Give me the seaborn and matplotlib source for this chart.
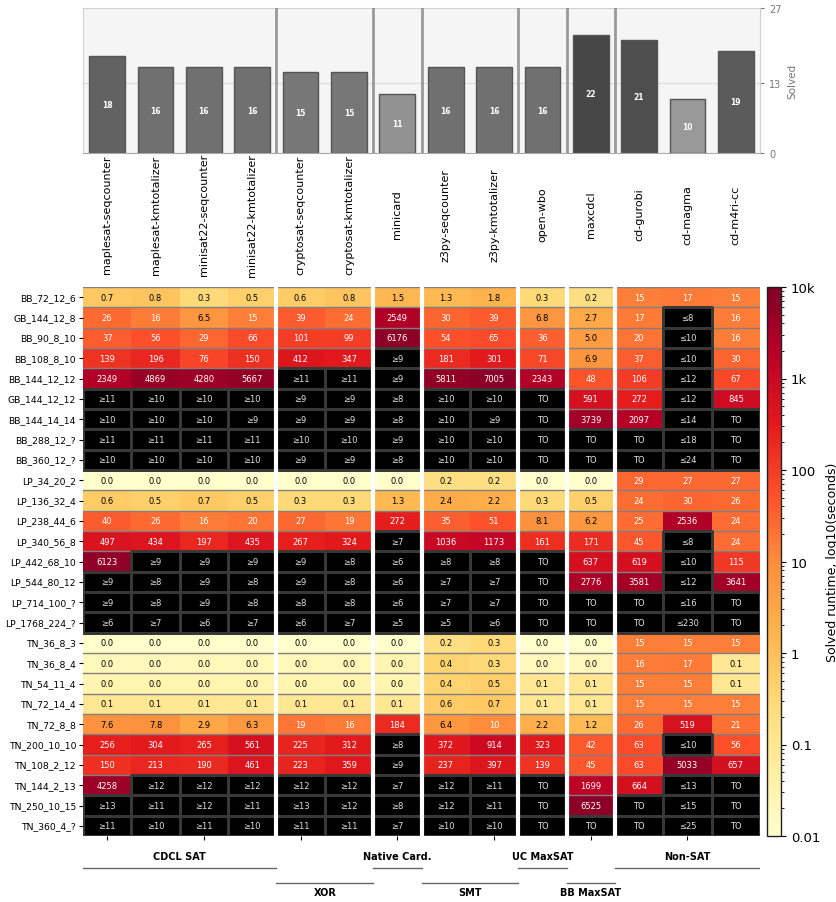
import numpy as np
import pandas as pd
import seaborn as sns
import matplotlib.pyplot as plt
from matplotlib.colors import LogNorm, ListedColormap, LinearSegmentedColormap, Normalize, to_rgba

solvers = ['maplesat-seqcounter', 'maplesat-kmtotalizer', 'minisat22-seqcounter',
           'minisat22-kmtotalizer', 'cryptosat-seqcounter', 'cryptosat-kmtotalizer',
           'minicard', 'z3py-seqcounter', 'z3py-kmtotalizer', 'open-wbo', 'maxcdcl',
           'cd-gurobi', 'cd-magma', 'cd-m4ri-cc']
solved = [18, 16, 16, 16, 15, 15, 11, 16, 16, 16, 22, 21, 10, 19]

groups = ['CDCL SAT', 'XOR', 'Native Card.', 'SMT', 'UC MaxSAT', 'BB MaxSAT', 'Non-SAT']
group_sizes = [4, 2, 1, 2, 1, 1, 3]

instances = ['BB_72_12_6', 'GB_144_12_8', 'BB_90_8_10', 'BB_108_8_10', 'BB_144_12_12',
             'GB_144_12_12', 'BB_144_14_14', 'BB_288_12_?', 'BB_360_12_?', 'LP_34_20_2',
             'LP_136_32_4', 'LP_238_44_6', 'LP_340_56_8', 'LP_442_68_10', 'LP_544_80_12',
             'LP_714_100_?', 'LP_1768_224_?', 'TN_36_8_3', 'TN_36_8_4', 'TN_54_11_4',
             'TN_72_14_4', 'TN_72_8_8', 'TN_200_10_10', 'TN_108_2_12', 'TN_144_2_13',
             'TN_250_10_15', 'TN_360_4_?']

# numbers = solved runtime in seconds, strings = unsolved (bound / timeout)
runtimes = [
    [0.7, 0.8, 0.3, 0.5, 0.6, 0.8, 1.5, 1.3, 1.8, 0.3, 0.2, 15, 17, 15],
    [26, 16, 6.5, 15, 39, 24, 2549, 30, 39, 6.8, 2.7, 17, '≤8', 16],
    [37, 56, 29, 66, 101, 99, 6176, 54, 65, 36, 5.0, 20, '≤10', 16],
    [139, 196, 76, 150, 412, 347, '≥9', 181, 301, 71, 6.9, 37, '≤10', 30],
    [2349, 4869, 4280, 5667, '≥11', '≥11', '≥9', 5811, 7005, 2343, 48, 106, '≤12', 67],
    ['≥11', '≥10', '≥10', '≥10', '≥9', '≥9', '≥8', '≥10', '≥10', 'TO', 591, 272, '≤12', 845],
    ['≥10', '≥10', '≥10', '≥9', '≥9', '≥9', '≥8', '≥10', '≥9', 'TO', 3739, 2097, '≤14', 'TO'],
    ['≥11', '≥11', '≥11', '≥11', '≥10', '≥10', '≥9', '≥10', '≥10', 'TO', 'TO', 'TO', '≤18', 'TO'],
    ['≥10', '≥10', '≥10', '≥10', '≥9', '≥9', '≥8', '≥10', '≥10', 'TO', 'TO', 'TO', '≤24', 'TO'],
    [0.01, 0.01, 0.01, 0.01, 0.01, 0.01, 0.01, 0.2, 0.2, 0.01, 0.01, 29, 27, 27],
    [0.6, 0.5, 0.7, 0.5, 0.3, 0.3, 1.3, 2.4, 2.2, 0.3, 0.5, 24, 30, 26],
    [40, 26, 16, 20, 27, 19, 272, 35, 51, 8.1, 6.2, 25, 2536, 24],
    [497, 434, 197, 435, 267, 324, '≥7', 1036, 1173, 161, 171, 45, '≤8', 24],
    [6123, '≥9', '≥9', '≥9', '≥9', '≥8', '≥6', '≥8', '≥8', 'TO', 637, 619, '≤10', 115],
    ['≥9', '≥8', '≥9', '≥8', '≥9', '≥8', '≥6', '≥7', '≥7', 'TO', 2776, 3581, '≤12', 3641],
    ['≥9', '≥8', '≥9', '≥8', '≥8', '≥8', '≥6', '≥7', '≥7', 'TO', 'TO', 'TO', '≤16', 'TO'],
    ['≥6', '≥7', '≥6', '≥7', '≥6', '≥7', '≥5', '≥5', '≥6', 'TO', 'TO', 'TO', '≤230', 'TO'],
    [0.01, 0.01, 0.01, 0.01, 0.01, 0.01, 0.01, 0.2, 0.3, 0.01, 0.01, 15, 15, 15],
    [0.02, 0.02, 0.02, 0.02, 0.02, 0.02, 0.03, 0.4, 0.3, 0.02, 0.02, 16, 17, 0.1],
    [0.03, 0.03, 0.03, 0.03, 0.03, 0.03, 0.03, 0.4, 0.5, 0.1, 0.1, 15, 15, 0.1],
    [0.1, 0.1, 0.1, 0.1, 0.1, 0.1, 0.1, 0.6, 0.7, 0.1, 0.1, 15, 15, 15],
    [7.6, 7.8, 2.9, 6.3, 19, 16, 184, 6.4, 10, 2.2, 1.2, 26, 519, 21],
    [256, 304, 265, 561, 225, 312, '≥8', 372, 914, 323, 42, 63, '≤10', 56],
    [150, 213, 190, 461, 223, 359, '≥9', 237, 397, 139, 45, 63, 5033, 657],
    [4258, '≥12', '≥12', '≥12', '≥12', '≥12', '≥7', '≥12', '≥11', 'TO', 1699, 664, '≤13', 'TO'],
    ['≥13', '≥11', '≥12', '≥11', '≥13', '≥12', '≥8', '≥12', '≥11', 'TO', 6525, 'TO', '≤15', 'TO'],
    ['≥11', '≥10', '≥11', '≥10', '≥11', '≥11', '≥7', '≥10', '≥10', 'TO', 'TO', 'TO', '≤25', 'TO'],
]


def fmt(v):
    return f'{v:.1f}' if v < 9.95 else f'{v:.0f}'


vals = pd.DataFrame([[np.nan if isinstance(v, str) else v for v in r] for r in runtimes],
                    index=instances, columns=solvers, dtype=float)
labels = np.array([[v if isinstance(v, str) else fmt(v) for v in r] for r in runtimes])
unsolved = vals.isna().to_numpy()
bounds = np.cumsum(group_sizes)[:-1]

fig = plt.figure(figsize=(8.37, 9.03), dpi=100)
W, H = 837, 903


def px_axes(x0, y0, x1, y1):
    return fig.add_axes([x0 / W, 1 - y1 / H, (x1 - x0) / W, (y1 - y0) / H])


# ---- solved counts bar chart ----
axb = px_axes(83, 9, 760, 154)
gray = LinearSegmentedColormap.from_list('g', ['#a0a0a0', '#404040'])
gnorm = Normalize(9, 23)
bar_colors = [gray(gnorm(v)) for v in solved]
sns.barplot(x=solvers, y=solved, hue=solvers, palette=bar_colors, legend=False,
            width=0.74, edgecolor='#555555', linewidth=1, saturation=1, ax=axb, zorder=2)
axb.set_facecolor('#f5f5f5')
axb.set_ylim(0, 27)
axb.axhline(13, color='#dcdcdc', lw=0.8, zorder=0)
for b in bounds:
    axb.axvline(b - 0.5, color='#999999', lw=2, zorder=3)
for i, v in enumerate(solved):
    axb.text(i, v / 2, str(v), ha='center', va='center', color='white',
             fontsize=5.5, weight='bold', zorder=4)
axb.yaxis.tick_right()
axb.yaxis.set_label_position('right')
axb.set_yticks([0, 13, 27])
axb.tick_params(axis='y', labelsize=7, colors='#777777', length=3)
axb.set_ylabel('Solved', fontsize=7.5, color='#777777')
axb.set_xticks(range(len(solvers)))
axb.set_xticklabels(solvers, rotation=90, fontsize=8, va='center')
axb.tick_params(axis='x', which='major', length=0, pad=44)
axb.set_xticks(range(0, len(solvers), 2), minor=True)
axb.tick_params(axis='x', which='minor', length=3.5)
axb.set_xlabel('')
for s in axb.spines.values():
    s.set_color('#d0d0d0')
    s.set_linewidth(0.8)
axb.spines['bottom'].set_color('#aaaaaa')

# ---- runtime heatmap ----
axh = px_axes(83, 288, 760, 837)
cax = px_axes(767, 288, 781, 837)
sns.heatmap(vals, mask=unsolved, cmap='YlOrRd', norm=LogNorm(0.01, 10000),
            annot=np.where(unsolved, '', labels), fmt='', annot_kws={'fontsize': 6},
            cbar_ax=cax, cbar_kws={'label': 'Solved runtime, log10(seconds)'}, ax=axh)
for t, v in zip(axh.texts, vals.to_numpy()[~unsolved]):
    t.set_color('white' if v >= 9.95 else 'black')
for y in range(len(instances) + 1):
    axh.axhline(y, color='#808080', lw=1, zorder=1.5)
blank = pd.DataFrame(0.0, index=instances, columns=solvers)
sns.heatmap(blank, mask=~unsolved, cmap=ListedColormap(['black']),
            cbar=False, linewidths=1,
            annot=np.where(unsolved, labels, ''), fmt='',
            annot_kws={'fontsize': 6, 'color': '#e0e0e0'}, ax=axh)
mesh = axh.collections[-1]
mesh.set_edgecolor([to_rgba('#383838') if u else (0, 0, 0, 0) for u in unsolved.ravel()])
mesh.set_zorder(2)
for t in axh.texts:
    t.set_zorder(4)
for b in bounds:
    axh.axvline(b, color='white', lw=3, zorder=5)
axh.set_xticks(np.arange(0.5, len(solvers), 2))
axh.set_xticklabels([])
axh.set_yticks(np.arange(len(instances)) + 0.5)
axh.set_yticklabels(instances, rotation=0, fontsize=6.7)
axh.tick_params(axis='both', length=3, pad=2)
axh.set_xlabel('')
axh.set_ylabel('')

cb = axh.collections[0].colorbar
cb.set_ticks([0.01, 0.1, 1, 10, 100, 1000, 10000])
cb.set_ticklabels(['0.01', '0.1', '1', '10', '100', '1k', '10k'])
cb.ax.tick_params(labelsize=9.5)
cb.ax.yaxis.label.set_size(9)
cb.outline.set_edgecolor('#222222')
cb.outline.set_linewidth(1)

# ---- solver family labels ----
axg = px_axes(83, 840, 760, 903)
axg.set_xlim(0, len(solvers))
axg.set_ylim(63, 0)
axg.axis('off')
start = 0
for k, (g, n) in enumerate(zip(groups, group_sizes)):
    mid = start + n / 2
    if k % 2 == 0:
        axg.text(mid, 17, g, ha='center', va='center', fontsize=7, weight='bold')
        axg.plot([start, start + n], [29, 29], color='#666666', lw=1)
    else:
        axg.plot([start, start + n], [44, 44], color='#666666', lw=1)
        axg.text(mid, 53, g, ha='center', va='center', fontsize=7, weight='bold')
    start += n

fig.savefig('out.png', dpi=100)
